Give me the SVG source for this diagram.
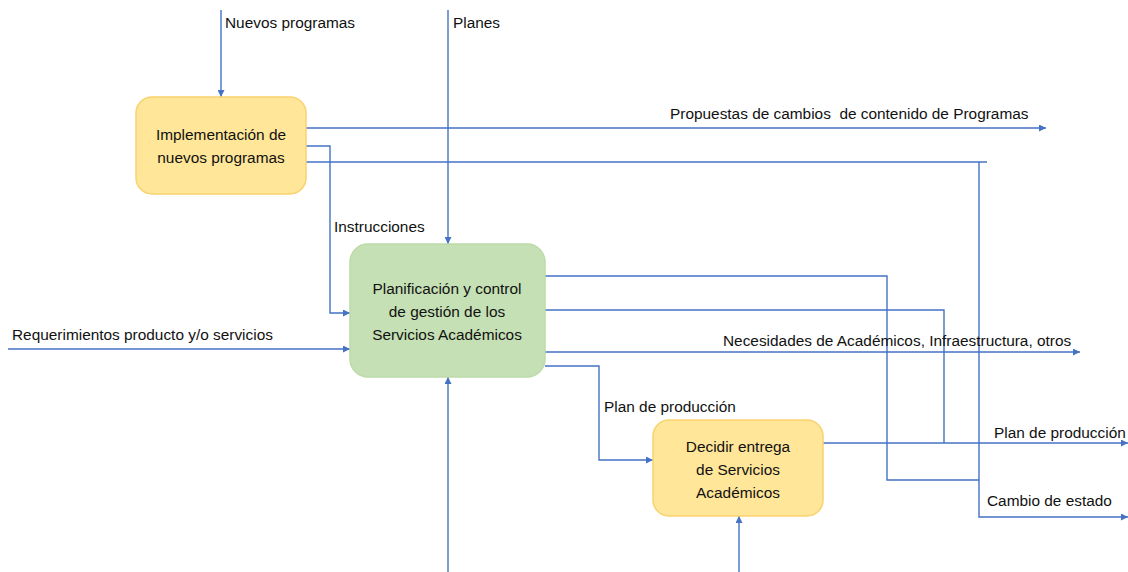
<svg xmlns="http://www.w3.org/2000/svg" width="1128" height="572" viewBox="0 0 1128 572">
  <defs>
    <marker id="arrow" viewBox="0 0 10 10" refX="10" refY="5" markerWidth="7" markerHeight="7" markerUnits="userSpaceOnUse" orient="auto">
      <path d="M0,0 L10,5 L0,10 z" fill="#4472C4"/>
    </marker>
    <style>
      text { font-family: "Liberation Sans", Arial, sans-serif; font-size: 15.4px; fill: #111; white-space: pre; }
      .c { text-anchor: middle; }
      .flow { fill: none; stroke: #4472C4; stroke-width: 1.4; }
      .arr { marker-end: url(#arrow); }
      .yellow { fill: #FFE699; stroke: #F9D26E; stroke-width: 1.5; }
      .green { fill: #C5E0B4; stroke: #BCDBA8; stroke-width: 1.5; }
    </style>
  </defs>

  <rect width="1128" height="572" fill="#fff"/>

  <!-- connectors -->
  <g id="connectors">
    <path class="flow arr" d="M221,10 V97"/>
    <path class="flow arr" d="M448,10 V244"/>
    <path class="flow arr" d="M306,128 H1046"/>
    <path class="flow arr" d="M306,146 H330 V313 H350"/>
    <path class="flow" d="M306,162 H987"/>
    <path class="flow arr" d="M979,162 V517 H1128"/>
    <path class="flow" d="M545,276 H887 V480 H979"/>
    <path class="flow" d="M545,310 H944 V443"/>
    <path class="flow arr" d="M545,352 H1080"/>
    <path class="flow arr" d="M545,366 H599 V460 H653"/>
    <path class="flow arr" d="M823,443 H1128"/>
    <path class="flow arr" d="M8,349 H350"/>
    <path class="flow arr" d="M448,572 V377"/>
    <path class="flow arr" d="M739,572 V516"/>
  </g>

  <!-- connector labels -->
  <g id="labels">
    <text x="225" y="28">Nuevos programas</text>
    <text x="453" y="28">Planes</text>
    <text x="670" y="119" xml:space="preserve">Propuestas de cambios  de contenido de Programas</text>
    <text x="334" y="232">Instrucciones</text>
    <text x="12" y="340">Requerimientos producto y/o servicios</text>
    <text x="723" y="346">Necesidades de Académicos, Infraestructura, otros</text>
    <text x="604" y="412">Plan de producción</text>
    <text x="994" y="438">Plan de producción</text>
    <text x="987" y="506">Cambio de estado</text>
  </g>

  <g id="node-implementacion">
    <rect class="yellow" x="136" y="97" width="170" height="97" rx="16"/>
    <text class="c" x="221" y="140">Implementación de</text>
    <text class="c" x="221" y="163">nuevos programas</text>
  </g>

  <g id="node-planificacion">
    <rect class="green" x="350" y="244" width="195" height="133" rx="18"/>
    <text class="c" x="447" y="294">Planificación y control</text>
    <text class="c" x="447" y="317">de gestión de los</text>
    <text class="c" x="447" y="340">Servicios Académicos</text>
  </g>

  <g id="node-decidir">
    <rect class="yellow" x="653" y="420" width="170" height="96" rx="16"/>
    <text class="c" x="738" y="452">Decidir entrega</text>
    <text class="c" x="738" y="475">de Servicios</text>
    <text class="c" x="738" y="498">Académicos</text>
  </g>
</svg>
